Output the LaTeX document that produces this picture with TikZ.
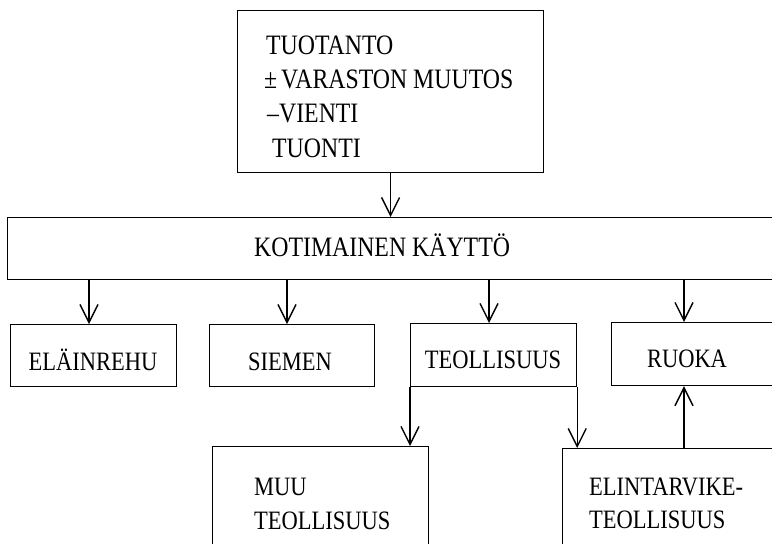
\documentclass[tikz,border=0pt]{standalone}
\usepackage{fontspec}
\setmainfont{Liberation Serif}
\usetikzlibrary{arrows.meta}
\newcommand\st[1]{\scalebox{1}[1.18]{#1}}
\begin{document}
\begin{tikzpicture}[x=1pt,y=-1pt,
  box/.style={draw, line width=1.2pt, inner sep=0pt, anchor=north west},
  txt/.style={inner sep=0pt, anchor=base west, font=\fontsize{22.5}{34}\selectfont},
  bigtxt/.style={txt, font=\fontsize{23.8}{34}\selectfont},
  ctxt/.style={inner sep=0pt, anchor=base, font=\fontsize{22.5}{34}\selectfont},
  arr/.style={line width=1.2pt, -{Straight Barb[length=18pt,width=18pt,line width=1.4pt]}}]
\useasboundingbox (0,0) rectangle (772,544);
\clip (0,0) rectangle (772,544);
% boxes
\node[box, minimum width=306pt, minimum height=162pt] (top) at (237,10) {};
\node[box, minimum width=800pt, minimum height=62pt] (main) at (7,217) {};
\node[box, minimum width=166pt, minimum height=62pt] (elain) at (10,324) {};
\node[box, minimum width=165pt, minimum height=62pt] (siemen) at (209,324) {};
\node[box, minimum width=166pt, minimum height=63pt] (teoll) at (410,323) {};
\node[box, minimum width=200pt, minimum height=63pt] (ruoka) at (611,322) {};
\node[box, minimum width=216pt, minimum height=200pt] (muu) at (212,446) {};
\node[box, minimum width=250pt, minimum height=200pt] (elint) at (562,448) {};
% texts
\node[bigtxt] (t1) at (266,54) {\st{TUOTANTO}};
\node[bigtxt] (t2) at (264,88) {\st{±\,VARASTON MUUTOS}};
\node[bigtxt] (t3) at (267,122) {\st{–VIENTI}};
\node[bigtxt] (t4) at (272,157) {\st{TUONTI}};
\node[bigtxt] (tm) at (254,256) {\st{KOTIMAINEN KÄYTTÖ}};
\node[ctxt] (te) at (93,370) {\st{ELÄINREHU}};
\node[ctxt] (ts) at (290,370) {\st{SIEMEN}};
\node[ctxt] (tt) at (493,368) {\st{TEOLLISUUS}};
\node[ctxt] (tr) at (687,367) {\st{RUOKA}};
\node[txt] (tu1) at (254,495) {\st{MUU}};
\node[txt] (tu2) at (254,529) {\st{TEOLLISUUS}};
\node[txt] (tl1) at (589,495) {\st{ELINTARVIKE-}};
\node[txt] (tl2) at (589,528) {\st{TEOLLISUUS}};
% connectors
\coordinate (c1) at (89,0);
\coordinate (c2) at (287,0);
\coordinate (c3) at (489,0);
\coordinate (c4) at (684,0);
\draw[arr] (top.south) -- (main.north -| top.south);
\draw[arr] (main.south -| c1) -- (elain.north -| c1);
\draw[arr] (main.south -| c2) -- (siemen.north -| c2);
\draw[arr] (main.south -| c3) -- (teoll.north -| c3);
\draw[arr] (main.south -| c4) -- (ruoka.north -| c4);
\draw[arr] (teoll.south west) -- (teoll.south west |- muu.north);
\draw[arr] (teoll.south east) -- (teoll.south east |- elint.north);
\draw[arr] (elint.north -| c4) -- (ruoka.south -| c4);
\end{tikzpicture}
\end{document}
